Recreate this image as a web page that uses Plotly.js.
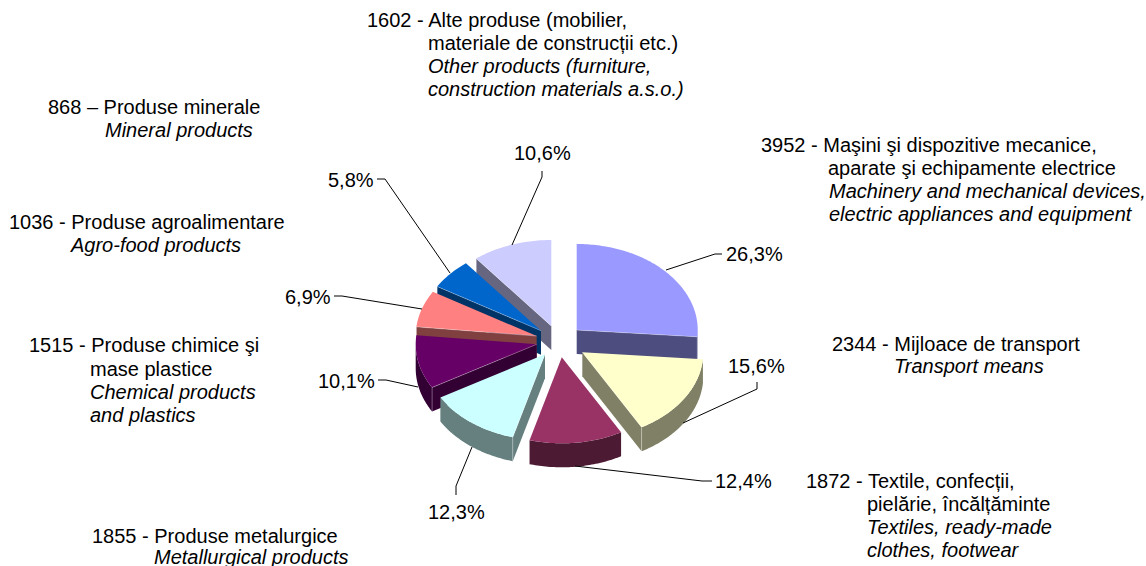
<!DOCTYPE html>
<html>
<head>
<meta charset="utf-8">
<script src="https://cdn.plot.ly/plotly-3.0.1.min.js"></script>
<style>html,body{margin:0;padding:0;background:#fff}#chart{width:1146px;height:566px}</style>
</head>
<body>
<div id="chart"></div>
<script>
// Data, clockwise from 12 o'clock
const categories = ["Mașini", "Transport", "Textile", "Metalurgice", "Chimice", "Agroalimentare", "Minerale", "Alte produse"];
const values = [3952, 2344, 1872, 1855, 1515, 1036, 868, 1602];

// Texts
const normalLines = [
  ["1602 - Alte produse (mobilier,", 367, 20],
  ["materiale de construcții etc.)", 428, 43],
  ["868 – Produse minerale", 48, 107],
  ["3952 - Maşini şi dispozitive mecanice,", 761, 145],
  ["aparate şi echipamente electrice", 828, 168],
  ["1036 - Produse agroalimentare", 9, 222],
  ["2344 - Mijloace de transport", 832, 344],
  ["1515 - Produse chimice şi", 29, 345],
  ["mase plastice", 90, 369],
  ["1872 - Textile, confecții,", 806, 481],
  ["pielărie, încălțăminte", 867, 504],
  ["1855 - Produse metalurgice", 92, 536]
];
const italicLines = [
  ["Other products (furniture,", 428, 66],
  ["construction materials a.s.o.)", 428, 89],
  ["Mineral products", 105, 130],
  ["Machinery and mechanical devices,", 829, 191],
  ["electric appliances and equipment", 829, 214],
  ["Agro-food products", 70, 245],
  ["Transport means", 894, 366],
  ["Chemical products", 90, 392],
  ["and plastics", 90, 415],
  ["Textiles, ready-made", 867, 527],
  ["clothes, footwear", 867, 550],
  ["Metallurgical products", 154, 557]
];

// Styling and layout of the projected pie
const topColors  = ["#9999FF", "#FFFFCC", "#993366", "#CCFFFF", "#660066", "#FF8080", "#0066CC", "#CCCCFF"];
const sideColors = ["#4D4D80", "#808066", "#4D1A33", "#668080", "#330033", "#804040", "#003366", "#666680"];
const sliceOrigins = [[576.7,330],[582.3,352.3],[561.8,357.3],[545,354.3],[536.7,344.3],[536.7,336],[541,330.7],[551.3,326]];
const paintOrder = [7, 6, 5, 4, 0, 2, 1, 3];
const rx = 121, ry = 86, depth = 24;
const pctPositions = [[754,254],[756,366],[743,481],[456,512],[346,381],[308,297],[351,180],[542,153]];
const leaders = [
  [[722,254],[715,254],[666,270]],
  [[757,382],[757,389],[683,423]],
  [[712,481],[702,481],[575,466]],
  [[456,495],[456,486],[472,447]],
  [[378,380],[386,380],[418,387]],
  [[334,296],[342,296],[422,309]],
  [[377,179],[385,179],[450,273]],
  [[542,171],[542,177],[512,245]]
];

const total = values.reduce((a, b) => a + b, 0);
const angles = [0];
values.forEach(v => angles.push(angles[angles.length - 1] + v / total * 360));
const rad = d => d * Math.PI / 180;
const rimPt = (o, a, dz) => [o[0] + rx * Math.sin(rad(a)), o[1] - ry * Math.cos(rad(a)) + dz];

function poly(pts, color) {
  return {type: "scatter", mode: "none", fill: "toself", fillcolor: color,
    x: pts.map(p => p[0]), y: pts.map(p => p[1]), hoverinfo: "skip", showlegend: false};
}
const traces = [];
paintOrder.forEach(i => {
  const o = sliceOrigins[i], a0 = angles[i], a1 = angles[i + 1];
  // outer wall, only the part facing the viewer
  const w0 = Math.max(a0, 90), w1 = Math.min(a1, 270);
  if (w1 > w0) {
    const up = [], down = [];
    for (let a = w0; a < w1; a += 1) { up.push(rimPt(o, a, 0)); down.unshift(rimPt(o, a, depth)); }
    up.push(rimPt(o, w1, 0)); down.unshift(rimPt(o, w1, depth));
    traces.push(poly(up.concat(down), sideColors[i]));
  }
  // radial cut face
  const faceAngle = Math.sin(rad(a1)) > 0 ? a1 : (Math.sin(rad(a0)) < 0 ? a0 : null);
  if (faceAngle !== null) {
    traces.push(poly([o, rimPt(o, faceAngle, 0), rimPt(o, faceAngle, depth), [o[0], o[1] + depth]], sideColors[i]));
  }
  // top surface
  const pts = [o];
  for (let a = a0; a < a1; a += 1) pts.push(rimPt(o, a, 0));
  pts.push(rimPt(o, a1, 0));
  traces.push(poly(pts, topColors[i]));
  // faint highlight along the cut edge and the outer corner
  if (faceAngle !== null) {
    const e = [o, rimPt(o, faceAngle, 0), rimPt(o, faceAngle, depth)];
    traces.push({type: "scatter", mode: "lines", x: e.map(p => p[0]), y: e.map(p => p[1]),
      line: {color: "rgba(255,255,255,0.3)", width: 1}, hoverinfo: "skip", showlegend: false});
  }
});
leaders.forEach(l => traces.push({type: "scatter", mode: "lines", x: l.map(p => p[0]), y: l.map(p => p[1]),
  line: {color: "#000000", width: 1}, hoverinfo: "skip", showlegend: false}));

const font = {family: "Liberation Sans, Arial, sans-serif", size: 20, color: "#000000"};
const note = (text, x, y, anchor) => ({text, x, y, xref: "x", yref: "y", xanchor: anchor, yanchor: "middle",
  showarrow: false, font, borderpad: 0, borderwidth: 0});
const annotations = [];
normalLines.forEach(l => annotations.push(note(l[0], l[1], l[2], "left")));
italicLines.forEach(l => annotations.push(note("<i>" + l[0] + "</i>", l[1], l[2], "left")));
values.forEach((v, i) => annotations.push(note((v / total * 100).toFixed(1).replace(".", ",") + "%", pctPositions[i][0], pctPositions[i][1], "center")));

const hidden = {visible: false, fixedrange: true, showgrid: false, zeroline: false};
Plotly.newPlot("chart", traces, {
  width: 1146, height: 566,
  margin: {l: 0, r: 0, t: 0, b: 0},
  paper_bgcolor: "#ffffff", plot_bgcolor: "#ffffff",
  showlegend: false,
  xaxis: Object.assign({range: [0, 1146]}, hidden),
  yaxis: Object.assign({range: [566, 0]}, hidden),
  annotations
}, {displayModeBar: false, staticPlot: true});
</script>
</body>
</html>
